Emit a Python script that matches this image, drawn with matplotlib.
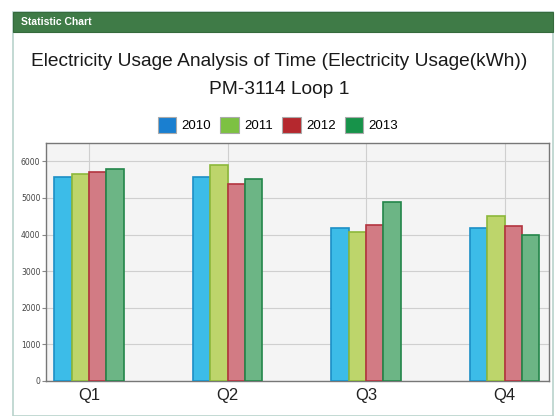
import numpy as np
import matplotlib.pyplot as plt
from matplotlib.patches import Rectangle

quarters = ['Q1', 'Q2', 'Q3', 'Q4']
years = ['2010', '2011', '2012', '2013']
usage2010 = [5570, 5570, 4190, 4170]
usage2011 = [5640, 5890, 4060, 4500]
usage2012 = [5700, 5370, 4250, 4225]
usage2013 = [5800, 5510, 4890, 4000]
yticks = [0, 1000, 2000, 3000, 4000, 5000, 6000]

allusage = [usage2010, usage2011, usage2012, usage2013]
barfill = ['#3cbce8', '#bdd56b', '#d27b84', '#6cb585']
baredge = ['#1c8fc6', '#8cb83a', '#b3343f', '#23864a']
legcol = ['#1a7fd0', '#7dc142', '#b5282e', '#17934a']

W, H = 559, 416
fig = plt.figure(figsize=(W/100, H/100), dpi=100)
fig.patch.set_facecolor('white')

#panel frame and green header bar (pixel coords -> figure fraction)
def px(x0, y0, x1, y1):
    return (x0/W, 1-y1/H), (x1-x0)/W, (y1-y0)/H

xy, w, h = px(13, 12, 553, 416)
fig.patches.append(Rectangle(xy, w, h, transform=fig.transFigure, zorder=-10,
                             facecolor='white', edgecolor='#b9d3cc', lw=1.2))
xy, w, h = px(13, 12, 553, 32)
fig.patches.append(Rectangle(xy, w, h, transform=fig.transFigure, zorder=-9,
                             facecolor='#3f7b47', edgecolor='#356a3c', lw=0.8))
fig.text(21/W, 1-22/H, 'Statistic Chart', color='white', fontsize=7.5,
         fontweight='bold', va='center', ha='left', family='Liberation Sans')

#titles
fig.text(0.5, 1-62/H, 'Electricity Usage Analysis of Time (Electricity Usage(kWh))',
         ha='center', va='center', fontsize=13.8, color='#1a1a1a', family='Liberation Sans')
fig.text(0.5, 1-89/H, 'PM-3114 Loop 1', ha='center', va='center',
         fontsize=13.8, color='#1a1a1a', family='Liberation Sans')

#plot area
ax = fig.add_axes([46/W, 1-381/H, (549-46)/W, (381-143)/H])
ax.set_facecolor('#f4f4f4')

x = np.arange(len(quarters))
bw = 0.125
for i in range(len(years)):
    ax.bar(x + (i-1.5)*bw, allusage[i], width=bw, color=barfill[i],
           edgecolor=baredge[i], linewidth=1.2, zorder=3, label=years[i])

ax.set_xlim(-0.31, 3.32)
ax.set_ylim(0, 6500)
ax.set_yticks(yticks)
ax.set_xticks(x)
ax.set_xticklabels(quarters, fontsize=12, color='#222222', family='Liberation Sans')
ax.tick_params(axis='y', labelsize=5.5, labelcolor='#444444', length=3, color='#888888', pad=1)
ax.tick_params(axis='x', length=0, pad=5)
ax.grid(True, color='#cfcfcf', lw=0.8, zorder=0)
for s in ax.spines.values():
    s.set_color('#777777')
    s.set_linewidth(1.0)

#legend
handles = [Rectangle((0, 0), 1, 1, facecolor=legcol[i], edgecolor='#aaaaaa', lw=0.8)
           for i in range(len(years))]
fig.legend(handles, years, loc='center', bbox_to_anchor=(278/W, 1-125/H), ncol=4,
           frameon=False, handlelength=1.4, handleheight=1.4,
           handletextpad=0.4, columnspacing=0.7, prop={'family': 'Liberation Sans', 'size': 9.5})

fig.savefig('out.png', dpi=100)
